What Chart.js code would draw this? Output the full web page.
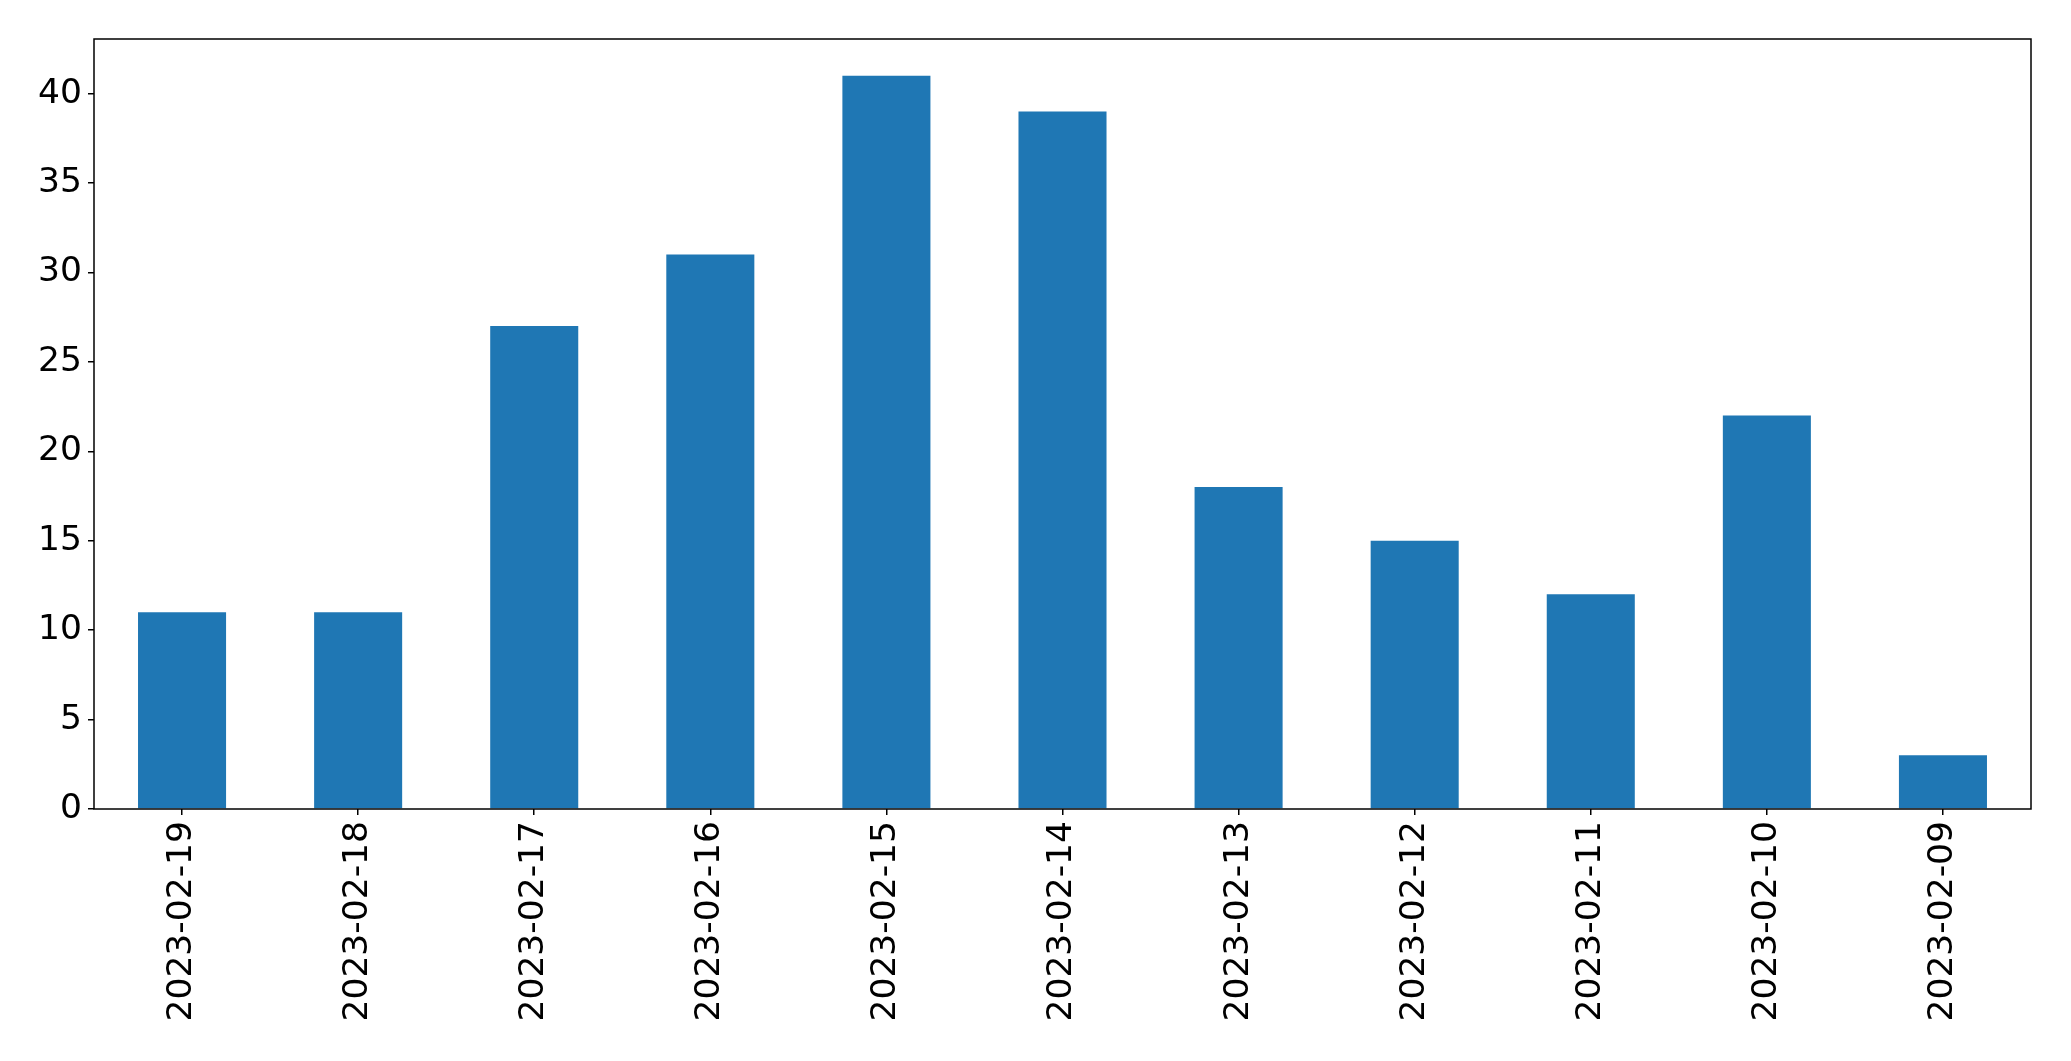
<!DOCTYPE html>
<html lang="en">
<head>
  <meta charset="UTF-8">
  <title>Daily counts</title>
  <script src="https://cdn.jsdelivr.net/npm/chart.js"></script>
  <style>
    html, body { margin: 0; padding: 0; background: #fff; }
    #wrap { width: 2071px; height: 1061px; }
  </style>
</head>
<body>
  <div id="wrap"><canvas id="chart"></canvas></div>

  <script>
    // Data
    const dates = ['2023-02-19', '2023-02-18', '2023-02-17', '2023-02-16', '2023-02-15', '2023-02-14',
                   '2023-02-13', '2023-02-12', '2023-02-11', '2023-02-10', '2023-02-09'];
    const counts = [11, 11, 27, 31, 41, 39, 18, 15, 12, 22, 3];
    const yTicks = [0, 5, 10, 15, 20, 25, 30, 35, 40];

    const fontSpec = { family: 'DejaVu Sans', size: 34.5 };

    // box around the plot area, like matplotlib's spines
    const frame = {
      id: 'frame',
      afterDraw(chart) {
        const a = chart.chartArea, c = chart.ctx;
        c.save();
        c.strokeStyle = '#000';
        c.lineWidth = 1.5;
        c.strokeRect(a.left, a.top, a.right - a.left, a.bottom - a.top);
        c.restore();
      }
    };

    new Chart(document.getElementById('chart'), {
      type: 'bar',
      data: {
        labels: dates,
        datasets: [{
          data: counts,
          backgroundColor: '#1f77b4',
          borderWidth: 0,
          barPercentage: 0.5,
          categoryPercentage: 1.0
        }]
      },
      options: {
        responsive: true,
        maintainAspectRatio: false,
        animation: false,
        layout: { padding: { top: 39, right: 40, left: 0, bottom: 0 } },
        plugins: { legend: { display: false }, tooltip: { enabled: false } },
        scales: {
          x: {
            grid: { display: true, offset: false, drawOnChartArea: false, drawTicks: true, tickLength: 6, color: '#000', lineWidth: 1.5 },
            border: { display: false },
            ticks: { color: '#000', font: fontSpec, minRotation: 90, maxRotation: 90, padding: 6, autoSkip: false },
            afterFit(scale) { scale.height = 252; }
          },
          y: {
            min: 0,
            max: Math.max(...counts) * 1.05,
            grid: { display: true, drawOnChartArea: false, drawTicks: true, tickLength: 6, color: '#000', lineWidth: 1.5 },
            border: { display: false },
            ticks: { color: '#000', font: fontSpec, padding: 6, stepSize: 5 },
            afterBuildTicks(scale) { scale.ticks = yTicks.map(v => ({ value: v })); },
            afterFit(scale) { scale.width = 94; }
          }
        }
      },
      plugins: [frame]
    });
  </script>
</body>
</html>
